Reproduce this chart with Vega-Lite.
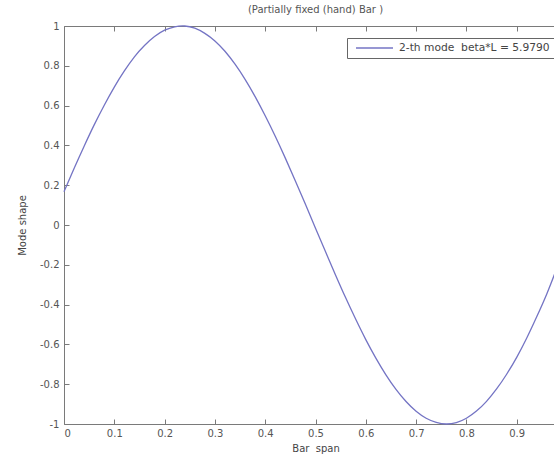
{
  "$schema": "https://vega.github.io/schema/vega-lite/v6.json",
  "width": 503,
  "height": 398,
  "autosize": {"type": "none"},
  "padding": {"left": 64, "top": 26, "right": 0, "bottom": 36},
  "background": "white",
  "config": {
    "view": {"stroke": "#7a7a7a", "strokeWidth": 1},
    "font": "DejaVu Sans",
    "axis": {"domain": false, "grid": false, "tickColor": "#7a7a7a", "tickSize": -5, "labelFontSize": 10, "labelColor": "#555", "titleFontSize": 10, "titleFontWeight": "normal", "titleColor": "#444", "labelFont": "DejaVu Sans", "titleFont": "DejaVu Sans"}
  },
  "title": {"text": "(Partially fixed (hand) Bar )", "fontSize": 10, "fontWeight": "normal", "color": "#555", "offset": 6, "anchor": "middle", "font": "DejaVu Sans"},
  "data": {"values": [
    {"x": 0.00, "y": 0.167, "series": "2-th mode\u00a0 beta*L = 5.9790"},
    {"x": 0.02, "y": 0.284, "series": "2-th mode\u00a0 beta*L = 5.9790"},
    {"x": 0.04, "y": 0.396, "series": "2-th mode\u00a0 beta*L = 5.9790"},
    {"x": 0.06, "y": 0.503, "series": "2-th mode\u00a0 beta*L = 5.9790"},
    {"x": 0.08, "y": 0.602, "series": "2-th mode\u00a0 beta*L = 5.9790"},
    {"x": 0.10, "y": 0.693, "series": "2-th mode\u00a0 beta*L = 5.9790"},
    {"x": 0.12, "y": 0.774, "series": "2-th mode\u00a0 beta*L = 5.9790"},
    {"x": 0.14, "y": 0.845, "series": "2-th mode\u00a0 beta*L = 5.9790"},
    {"x": 0.16, "y": 0.902, "series": "2-th mode\u00a0 beta*L = 5.9790"},
    {"x": 0.18, "y": 0.947, "series": "2-th mode\u00a0 beta*L = 5.9790"},
    {"x": 0.20, "y": 0.979, "series": "2-th mode\u00a0 beta*L = 5.9790"},
    {"x": 0.22, "y": 0.996, "series": "2-th mode\u00a0 beta*L = 5.9790"},
    {"x": 0.24, "y": 1.000, "series": "2-th mode\u00a0 beta*L = 5.9790"},
    {"x": 0.26, "y": 0.989, "series": "2-th mode\u00a0 beta*L = 5.9790"},
    {"x": 0.28, "y": 0.963, "series": "2-th mode\u00a0 beta*L = 5.9790"},
    {"x": 0.30, "y": 0.925, "series": "2-th mode\u00a0 beta*L = 5.9790"},
    {"x": 0.32, "y": 0.873, "series": "2-th mode\u00a0 beta*L = 5.9790"},
    {"x": 0.34, "y": 0.808, "series": "2-th mode\u00a0 beta*L = 5.9790"},
    {"x": 0.36, "y": 0.732, "series": "2-th mode\u00a0 beta*L = 5.9790"},
    {"x": 0.38, "y": 0.645, "series": "2-th mode\u00a0 beta*L = 5.9790"},
    {"x": 0.40, "y": 0.549, "series": "2-th mode\u00a0 beta*L = 5.9790"},
    {"x": 0.42, "y": 0.446, "series": "2-th mode\u00a0 beta*L = 5.9790"},
    {"x": 0.44, "y": 0.336, "series": "2-th mode\u00a0 beta*L = 5.9790"},
    {"x": 0.46, "y": 0.221, "series": "2-th mode\u00a0 beta*L = 5.9790"},
    {"x": 0.48, "y": 0.104, "series": "2-th mode\u00a0 beta*L = 5.9790"},
    {"x": 0.50, "y": -0.016, "series": "2-th mode\u00a0 beta*L = 5.9790"},
    {"x": 0.52, "y": -0.135, "series": "2-th mode\u00a0 beta*L = 5.9790"},
    {"x": 0.54, "y": -0.252, "series": "2-th mode\u00a0 beta*L = 5.9790"},
    {"x": 0.56, "y": -0.366, "series": "2-th mode\u00a0 beta*L = 5.9790"},
    {"x": 0.58, "y": -0.474, "series": "2-th mode\u00a0 beta*L = 5.9790"},
    {"x": 0.60, "y": -0.576, "series": "2-th mode\u00a0 beta*L = 5.9790"},
    {"x": 0.62, "y": -0.669, "series": "2-th mode\u00a0 beta*L = 5.9790"},
    {"x": 0.64, "y": -0.753, "series": "2-th mode\u00a0 beta*L = 5.9790"},
    {"x": 0.66, "y": -0.826, "series": "2-th mode\u00a0 beta*L = 5.9790"},
    {"x": 0.68, "y": -0.887, "series": "2-th mode\u00a0 beta*L = 5.9790"},
    {"x": 0.70, "y": -0.936, "series": "2-th mode\u00a0 beta*L = 5.9790"},
    {"x": 0.72, "y": -0.971, "series": "2-th mode\u00a0 beta*L = 5.9790"},
    {"x": 0.74, "y": -0.992, "series": "2-th mode\u00a0 beta*L = 5.9790"},
    {"x": 0.76, "y": -1.000, "series": "2-th mode\u00a0 beta*L = 5.9790"},
    {"x": 0.78, "y": -0.993, "series": "2-th mode\u00a0 beta*L = 5.9790"},
    {"x": 0.80, "y": -0.971, "series": "2-th mode\u00a0 beta*L = 5.9790"},
    {"x": 0.82, "y": -0.935, "series": "2-th mode\u00a0 beta*L = 5.9790"},
    {"x": 0.84, "y": -0.886, "series": "2-th mode\u00a0 beta*L = 5.9790"},
    {"x": 0.86, "y": -0.824, "series": "2-th mode\u00a0 beta*L = 5.9790"},
    {"x": 0.88, "y": -0.750, "series": "2-th mode\u00a0 beta*L = 5.9790"},
    {"x": 0.90, "y": -0.665, "series": "2-th mode\u00a0 beta*L = 5.9790"},
    {"x": 0.92, "y": -0.568, "series": "2-th mode\u00a0 beta*L = 5.9790"},
    {"x": 0.94, "y": -0.460, "series": "2-th mode\u00a0 beta*L = 5.9790"},
    {"x": 0.96, "y": -0.345, "series": "2-th mode\u00a0 beta*L = 5.9790"},
    {"x": 0.98, "y": -0.215, "series": "2-th mode\u00a0 beta*L = 5.9790"},
    {"x": 1.00, "y": -0.075, "series": "2-th mode\u00a0 beta*L = 5.9790"}
  ]},
  "layer": [
    {
      "mark": {"type": "line", "strokeWidth": 1.3, "interpolate": "natural"},
      "encoding": {
        "x": {"field": "x", "type": "quantitative", "scale": {"domain": [0, 1], "nice": false},
              "axis": {"values": [0, 0.1, 0.2, 0.3, 0.4, 0.5, 0.6, 0.7, 0.8, 0.9], "title": "Bar\u00a0 span", "labelPadding": 9, "titlePadding": 5, "labelExpr": "format(datum.value, '~g')"}},
        "y": {"field": "y", "type": "quantitative", "scale": {"domain": [-1, 1], "nice": false},
              "axis": {"values": [-1, -0.8, -0.6, -0.4, -0.2, 0, 0.2, 0.4, 0.6, 0.8, 1], "title": "Mode shape", "labelPadding": 10, "titlePadding": 12, "labelExpr": "replace(format(datum.value, '~g'), '\u2212', '-')"}},
        "color": {"field": "series", "type": "nominal", "scale": {"range": ["#7474c4"]},
                  "legend": {"title": null, "orient": "none", "legendX": 283, "legendY": 12, "symbolType": "stroke", "symbolSize": 1369, "symbolStrokeWidth": 1.5, "clipHeight": 12, "labelFontSize": 10.7, "labelColor": "#444", "labelFont": "DejaVu Sans", "strokeColor": "#666", "fillColor": "white", "padding": 4, "symbolOffset": 4, "labelOffset": 5, "labelLimit": 300}}
      }
    },
    {
      "mark": {"type": "point", "opacity": 0},
      "encoding": {
        "x": {"field": "x", "type": "quantitative", "scale": {"domain": [0, 1], "nice": false},
              "axis": {"orient": "top", "values": [0, 0.1, 0.2, 0.3, 0.4, 0.5, 0.6, 0.7, 0.8, 0.9, 1], "labels": false, "title": null}},
        "y": {"field": "y", "type": "quantitative", "scale": {"domain": [-1, 1], "nice": false},
              "axis": {"orient": "right", "values": [-1, -0.8, -0.6, -0.4, -0.2, 0, 0.2, 0.4, 0.6, 0.8, 1], "labels": false, "title": null}}
      }
    }
  ],
  "resolve": {"axis": {"x": "independent", "y": "independent"}}
}
